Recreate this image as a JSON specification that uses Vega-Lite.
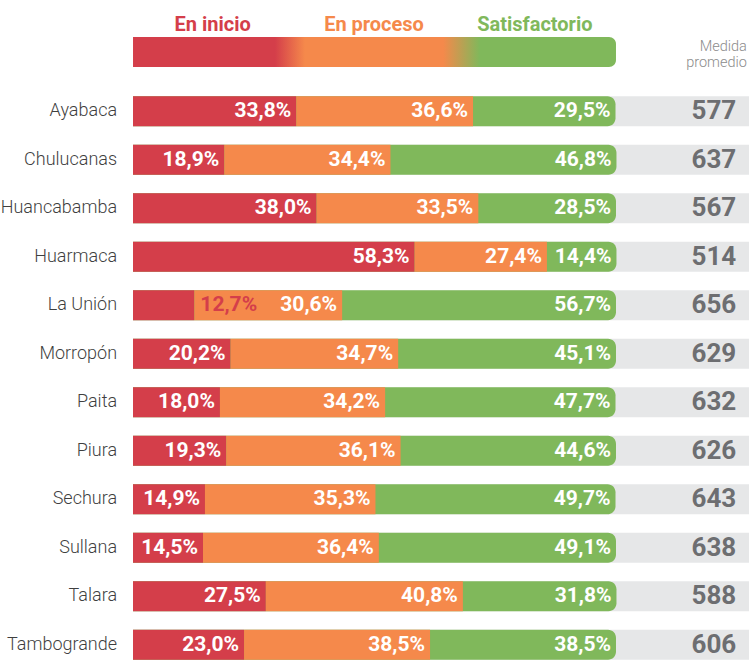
{
  "$schema": "https://vega.github.io/schema/vega-lite/v6.json",
  "padding": 0,
  "spacing": 15,
  "config": {
    "view": {"stroke": null},
    "font": "Roboto",
    "locale": {"number": {"decimal": ",", "thousands": ".", "grouping": [3], "currency": ["", "%"]}}
  },
  "datasets": {
    "distritos": [
      {"distrito": "Ayabaca", "inicio": 33.8, "proceso": 36.6, "satisfactorio": 29.5, "media": 577},
      {"distrito": "Chulucanas", "inicio": 18.9, "proceso": 34.4, "satisfactorio": 46.8, "media": 637},
      {"distrito": "Huancabamba", "inicio": 38.0, "proceso": 33.5, "satisfactorio": 28.5, "media": 567},
      {"distrito": "Huarmaca", "inicio": 58.3, "proceso": 27.4, "satisfactorio": 14.4, "media": 514},
      {"distrito": "La Unión", "inicio": 12.7, "proceso": 30.6, "satisfactorio": 56.7, "media": 656},
      {"distrito": "Morropón", "inicio": 20.2, "proceso": 34.7, "satisfactorio": 45.1, "media": 629},
      {"distrito": "Paita", "inicio": 18.0, "proceso": 34.2, "satisfactorio": 47.7, "media": 632},
      {"distrito": "Piura", "inicio": 19.3, "proceso": 36.1, "satisfactorio": 44.6, "media": 626},
      {"distrito": "Sechura", "inicio": 14.9, "proceso": 35.3, "satisfactorio": 49.7, "media": 643},
      {"distrito": "Sullana", "inicio": 14.5, "proceso": 36.4, "satisfactorio": 49.1, "media": 638},
      {"distrito": "Talara", "inicio": 27.5, "proceso": 40.8, "satisfactorio": 31.8, "media": 588},
      {"distrito": "Tambogrande", "inicio": 23.0, "proceso": 38.5, "satisfactorio": 38.5, "media": 606}
    ]
  },
  "vconcat": [
    {
      "width": 749,
      "height": 72,
      "data": {"values": [{"fila": "barra"}]},
      "layer": [
        {
          "mark": {
            "type": "bar",
            "cornerRadiusTopRight": 7,
            "cornerRadiusBottomRight": 7,
            "color": {
              "gradient": "linear",
              "x1": 0, "x2": 1, "y1": 0, "y2": 0,
              "stops": [
                {"offset": 0, "color": "#d43e4a"},
                {"offset": 0.294, "color": "#d43e4a"},
                {"offset": 0.356, "color": "#f5894b"},
                {"offset": 0.642, "color": "#f5894b"},
                {"offset": 0.718, "color": "#80b85b"},
                {"offset": 1, "color": "#80b85b"}
              ]
            }
          },
          "encoding": {
            "x": {"datum": 0, "type": "quantitative", "scale": {"domain": [-27.54, 127.54], "nice": false, "zero": false}, "axis": null},
            "x2": {"datum": 100},
            "y": {"field": "fila", "type": "nominal", "axis": null, "scale": {"domain": ["titulo", "barra"], "paddingInner": 0.0625, "paddingOuter": 0.156}}
          }
        },
        {
          "mark": {"type": "text", "text": "En inicio", "color": "#d43e4a", "fontSize": 20, "fontWeight": "bold", "baseline": "alphabetic", "dy": 11},
          "encoding": {
            "x": {"datum": 16.5, "type": "quantitative"},
            "y": {"datum": "titulo", "type": "nominal"}
          }
        },
        {
          "mark": {"type": "text", "text": "En proceso", "color": "#f5894b", "fontSize": 20, "fontWeight": "bold", "baseline": "alphabetic", "dy": 11},
          "encoding": {
            "x": {"datum": 49.9, "type": "quantitative"},
            "y": {"datum": "titulo", "type": "nominal"}
          }
        },
        {
          "mark": {"type": "text", "text": "Satisfactorio", "color": "#80b85b", "fontSize": 20, "fontWeight": "bold", "baseline": "alphabetic", "dy": 11},
          "encoding": {
            "x": {"datum": 83.2, "type": "quantitative"},
            "y": {"datum": "titulo", "type": "nominal"}
          }
        },
        {
          "mark": {"type": "text", "text": ["Medida", "promedio"], "color": "#8c8c8c", "fontSize": 14.5, "fontWeight": 300, "lineHeight": 16, "align": "right", "baseline": "alphabetic", "dy": -1},
          "encoding": {
            "x": {"datum": 127.1, "type": "quantitative"},
            "y": {"datum": "barra", "type": "nominal"}
          }
        }
      ]
    },
    {
      "width": 749,
      "height": 582,
      "data": {"name": "distritos"},
      "encoding": {
        "y": {"field": "distrito", "type": "nominal", "sort": null, "axis": null, "scale": {"paddingInner": 0.381, "paddingOuter": 0.19}}
      },
      "layer": [
        {
          "mark": {"type": "bar", "color": "#e6e7e8"},
          "encoding": {
            "x": {"datum": 0, "type": "quantitative", "scale": {"domain": [-27.54, 127.54], "nice": false, "zero": false}, "axis": null},
            "x2": {"datum": 127.54}
          }
        },
        {
          "transform": [{"fold": ["inicio", "proceso", "satisfactorio"], "as": ["cat", "value"]}],
          "mark": {"type": "bar", "color": "#80b85b", "cornerRadiusEnd": 8},
          "encoding": {
            "x": {"aggregate": "sum", "field": "value", "type": "quantitative"}
          }
        },
        {
          "transform": [
            {"fold": ["inicio", "proceso", "satisfactorio"], "as": ["cat", "value"]},
            {"filter": "datum.cat != 'satisfactorio'"}
          ],
          "mark": {"type": "bar"},
          "encoding": {
            "x": {"field": "value", "type": "quantitative", "stack": "zero"},
            "color": {"field": "cat", "type": "nominal", "legend": null, "scale": {"domain": ["inicio", "proceso", "satisfactorio"], "range": ["#d43e4a", "#f5894b", "#80b85b"]}},
            "order": {"field": "cat"}
          }
        },
        {
          "transform": [
            {"fold": ["inicio", "proceso", "satisfactorio"], "as": ["cat", "value"]},
            {"stack": "value", "groupby": ["distrito"], "sort": [{"field": "cat", "order": "ascending"}], "as": ["v0", "v1"]},
            {"filter": "!(datum.cat == 'inicio' && datum.value < 13)"}
          ],
          "mark": {"type": "text", "align": "right", "baseline": "middle", "dx": -5, "fontSize": 21, "fontWeight": "bold", "color": "white"},
          "encoding": {
            "x": {"field": "v1", "type": "quantitative"},
            "text": {"field": "value", "type": "quantitative", "format": "$.1f"}
          }
        },
        {
          "transform": [
            {"fold": ["inicio", "proceso", "satisfactorio"], "as": ["cat", "value"]},
            {"stack": "value", "groupby": ["distrito"], "sort": [{"field": "cat", "order": "ascending"}], "as": ["v0", "v1"]},
            {"filter": "datum.cat == 'inicio' && datum.value < 13"}
          ],
          "mark": {"type": "text", "align": "left", "baseline": "middle", "dx": 6, "fontSize": 21, "fontWeight": "bold", "color": "#d43e4a"},
          "encoding": {
            "x": {"field": "v1", "type": "quantitative"},
            "text": {"field": "value", "type": "quantitative", "format": "$.1f"}
          }
        },
        {
          "mark": {"type": "text", "align": "right", "baseline": "middle", "fontSize": 18, "fontWeight": 300, "color": "#3f3f3f"},
          "encoding": {
            "x": {"datum": -3.3, "type": "quantitative"},
            "text": {"field": "distrito", "type": "nominal"}
          }
        },
        {
          "mark": {"type": "text", "align": "right", "baseline": "middle", "fontSize": 26, "fontWeight": "bold", "color": "#6d6e71"},
          "encoding": {
            "x": {"datum": 124.9, "type": "quantitative"},
            "text": {"field": "media", "type": "quantitative", "format": "d"}
          }
        }
      ]
    }
  ]
}
